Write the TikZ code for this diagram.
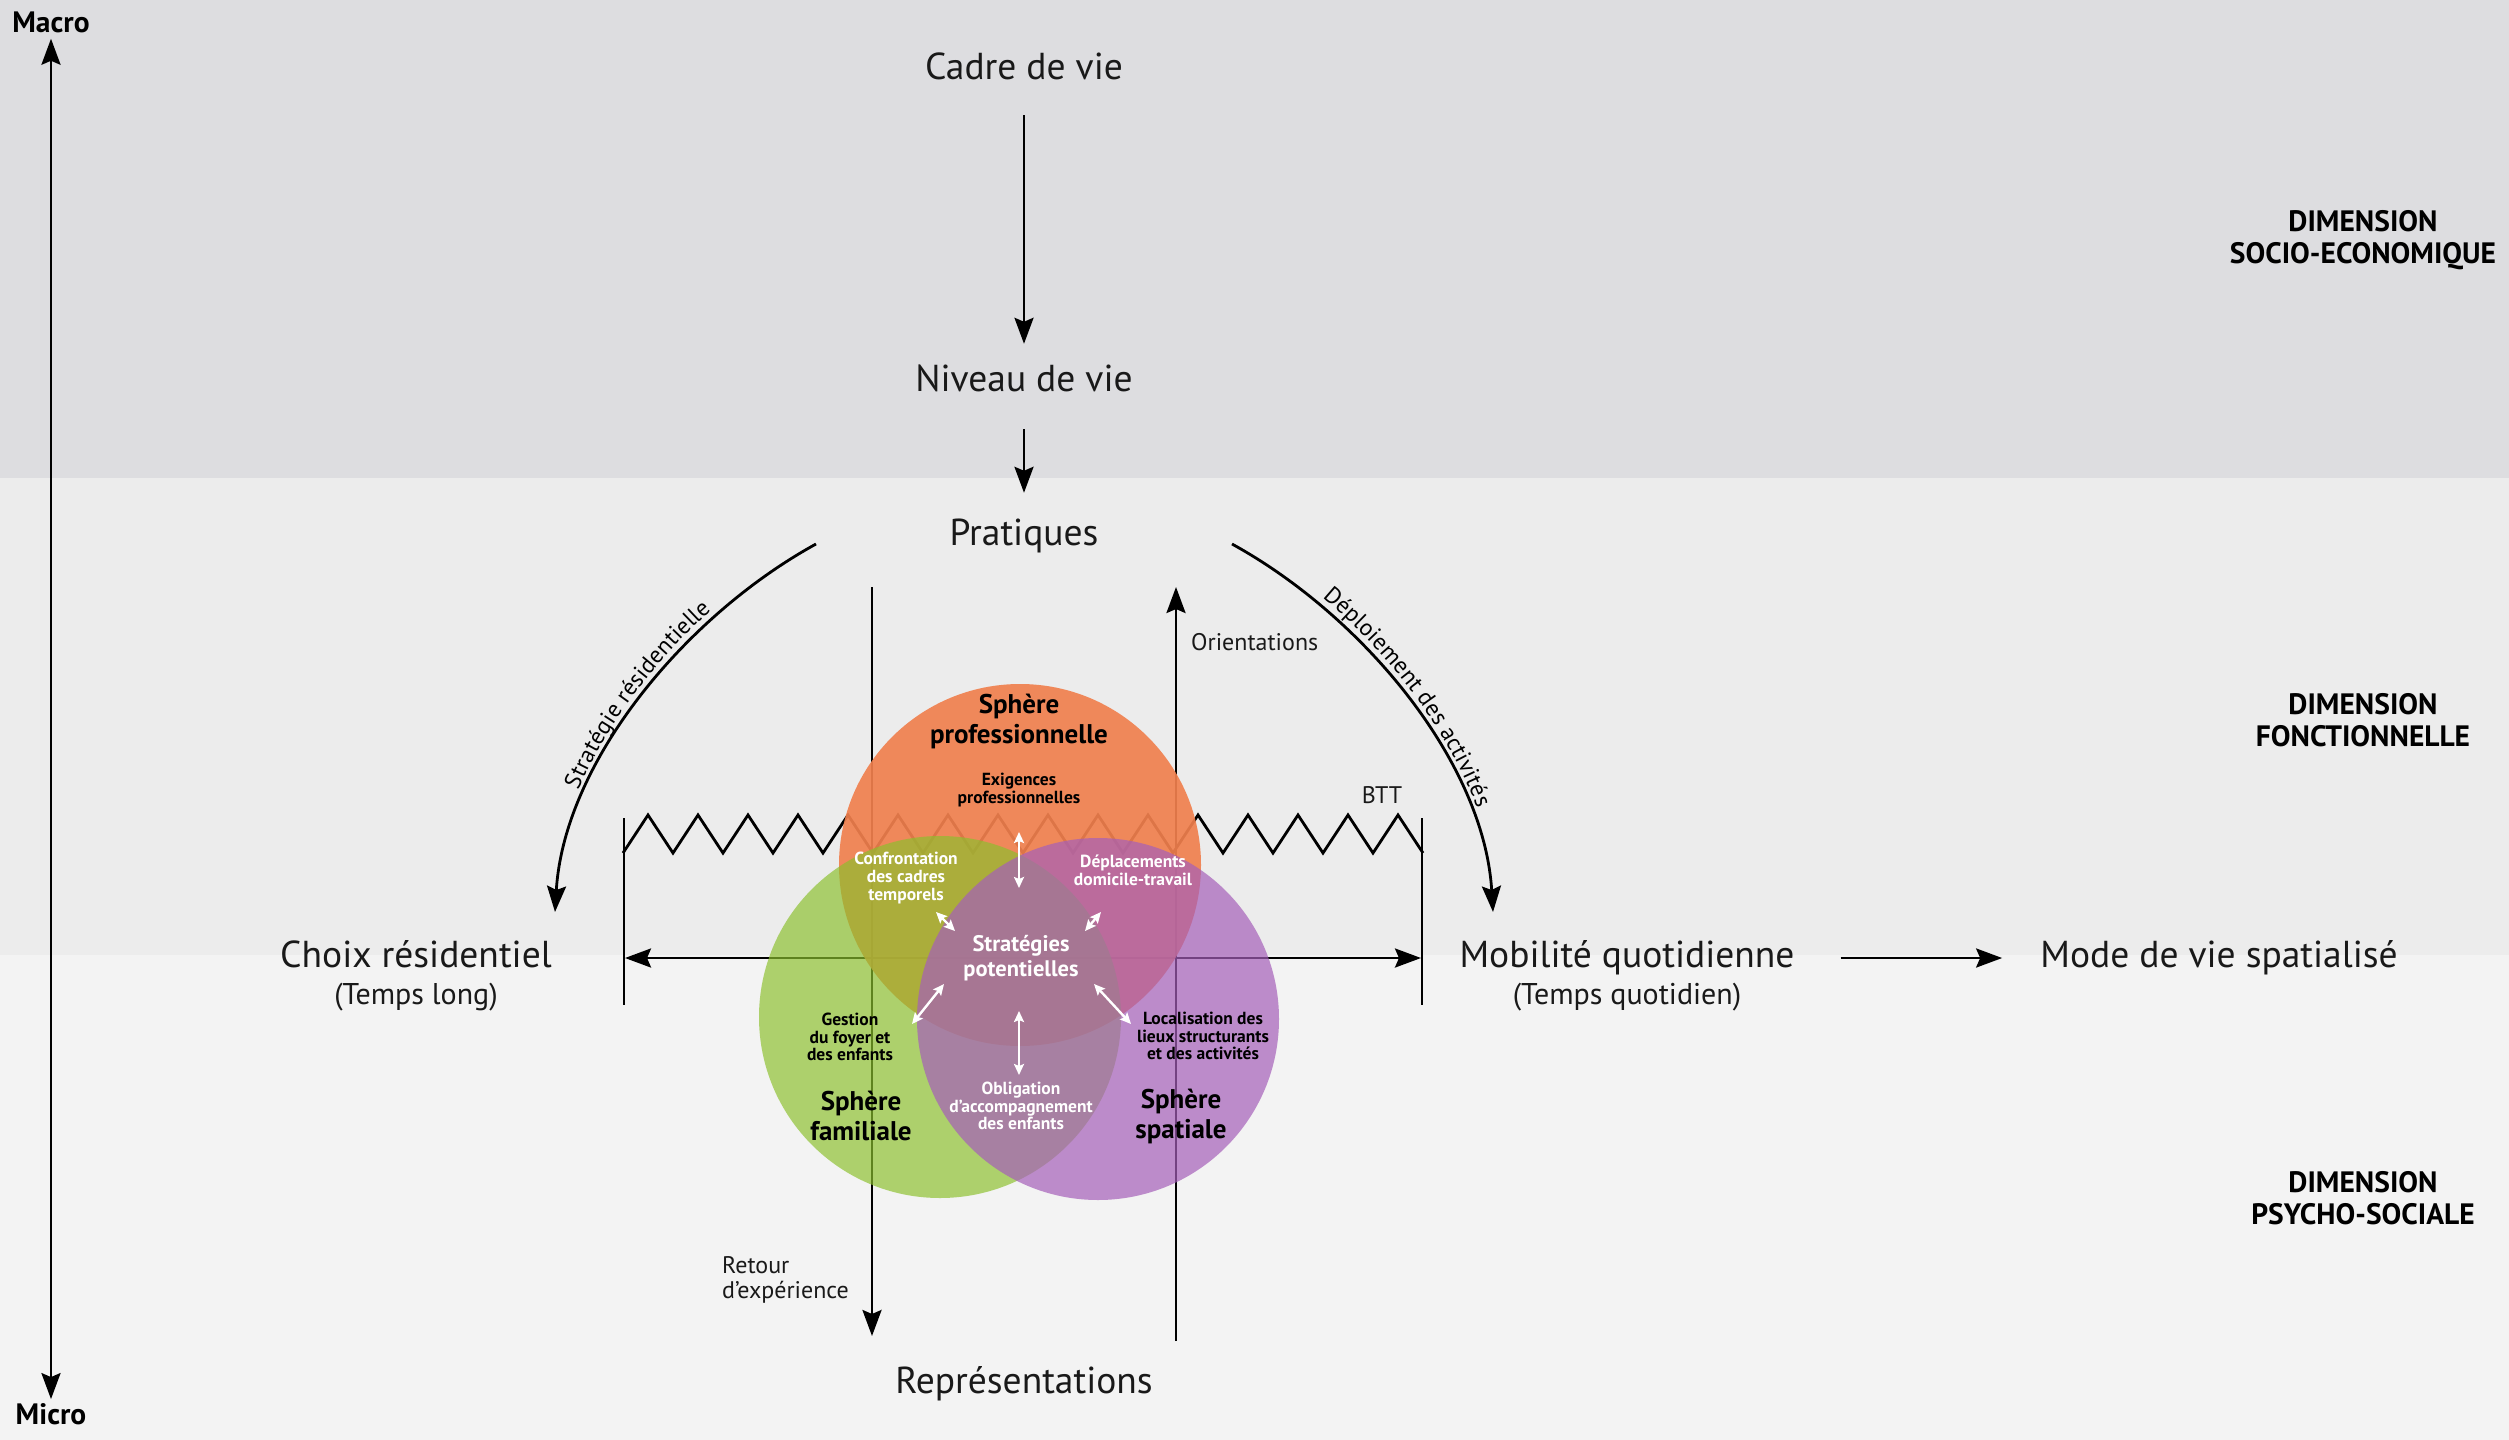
\documentclass[tikz,border=0pt]{standalone}
\usepackage{fontspec}
\setmainfont{PT Sans}
\usetikzlibrary{arrows.meta,positioning,decorations.text,calc}
\definecolor{bandtop}{RGB}{221,221,224}
\definecolor{bandmid}{RGB}{236,236,236}
\definecolor{bandbot}{RGB}{243,243,243}
\definecolor{orangec}{RGB}{240,128,78}
\definecolor{greenc}{RGB}{140,192,45}
\definecolor{purplec}{RGB}{165,95,185}
\definecolor{inktext}{RGB}{25,25,25}
\tikzset{
    lbl/.style = {font=\fontsize{37.5}{44}\selectfont, inner sep=0pt,
        text height=26pt, text depth=8pt, text=inktext},
    sublbl/.style = {font=\fontsize{30}{34}\selectfont, inner sep=0pt, text=inktext},
    note/.style = {font=\fontsize{24}{25}\selectfont, inner sep=0pt, align=left, text=inktext},
    dimlbl/.style = {font=\bfseries\fontsize{29.5}{32}\selectfont, inner sep=0pt, align=center},
    sphere/.style = {font=\bfseries\fontsize{27}{30}\selectfont, inner sep=0pt, align=center},
    strat/.style = {font=\bfseries\fontsize{22.5}{25}\selectfont, inner sep=0pt, align=center, text=white},
    cell/.style = {font=\bfseries\fontsize{17.5}{17.8}\selectfont, inner sep=0pt, align=center},
    disc/.style = {circle, inner sep=0pt, minimum size=362pt},
    arrow/.style = {draw, line width=2.8pt, -{Stealth[length=26pt,width=19pt,inset=4pt]}},
    darrow/.style = {draw, line width=2.8pt,
        {Stealth[length=26pt,width=19pt,inset=4pt]}-{Stealth[length=26pt,width=19pt,inset=4pt]}},
    wlink/.style = {draw=white, line width=2.4pt,
        {Stealth[length=11pt,width=10pt,inset=2pt]}-{Stealth[length=11pt,width=10pt,inset=2pt]}},
    bar/.style = {draw, line width=2.8pt},
    arclbl/.style = {decorate, decoration={text along path, text align=center, raise=7pt,
        text={|\fontsize{23.5}{26}\selectfont|#1}}}
}
\begin{document}
\begin{tikzpicture}[x=1pt, y=-1pt]
    \useasboundingbox (0,0) rectangle (2509,1440);
    % bands
    \fill [bandtop] (0,0) rectangle (2509,478);
    \fill [bandmid] (0,478) rectangle (2509,955);
    \fill [bandbot] (0,955) rectangle (2509,1440);

    % scale axis
    \node [dimlbl] (macro) at (51,22) {Macro};
    \node [dimlbl] (micro) at (51,1414) {Micro};
    \draw [darrow, shorten <=6pt, shorten >=4pt] (macro) -- (micro);

    \node [dimlbl] (dimsoc) at (2363,240) {DIMENSION\\SOCIO-ECONOMIQUE};
    \node [dimlbl] (dimfon) at (2363,720) {DIMENSION\\FONCTIONNELLE};
    \node [dimlbl] (dimpsy) at (2363,1198) {DIMENSION\\PSYCHO-SOCIALE};

    % main chain
    \node [lbl] (cadre) at (1024,70) {Cadre de vie};
    \node [lbl] (niveau) at (1024,382) {Niveau de vie};
    \node [lbl] (pratiques) at (1024,536) {Pratiques};
    \node [lbl] (repres) at (1024,1384) {Représentations};
    \node [lbl] (choix) at (416,958) {Choix résidentiel};
    \node [sublbl, below of=choix, node distance=39pt] (choixt) {(Temps long)};
    \node [lbl] (mobil) at (1627,958) {Mobilité quotidienne};
    \node [sublbl, below of=mobil, node distance=39pt] (mobilt) {(Temps quotidien)};
    \node [lbl] (mode) at (2219,958) {Mode de vie spatialisé};
    \draw [arrow, shorten <=28pt, shorten >=21pt] (cadre) -- (niveau);
    \draw [arrow, shorten <=30pt, shorten >=26pt] (niveau) -- (pratiques);
    \draw [arrow, shorten <=46pt, shorten >=38pt] (mobil) -- (mode);

    % bracket and BTT zigzag
    \coordinate (lbartop) at (624,818);
    \coordinate (lbarbot) at (624,1005);
    \coordinate (rbartop) at (1422,818);
    \coordinate (rbarbot) at (1422,1005);
    \coordinate (lmid) at (624,958);
    \coordinate (rmid) at (1422,958);
    \draw [bar] (lbartop) -- (lbarbot);
    \draw [bar] (rbartop) -- (rbarbot);
    \draw [darrow, shorten <=1pt, shorten >=1pt] (lmid) -- (rmid);
    \draw [bar, line join=miter] (623,853) \foreach \k in {0,...,15}{ -- ({648+50*\k},815) -- ({673+50*\k},853) };
    \node [note] (btt) at (1382,795) {BTT};

    % feedback lines
    \coordinate (rettop) at (872,587);
    \coordinate (retbot) at (872,1336);
    \coordinate (oribot) at (1176,1341);
    \coordinate (oritop) at (1176,587);
    \draw [arrow] (rettop) -- (retbot);
    \draw [arrow] (oribot) -- (oritop);
    \node [note, anchor=west] (retour) at (722,1280) {Retour\\d’expérience};
    \node [note, anchor=west] (orient) at (1191,642) {Orientations};

    % curved strategies
    \draw [arrow] (816,544) .. controls (685,616) and (564,762) .. (555,912);
    \path [arclbl=Stratégie résidentielle] (555,912) .. controls (564,762) and (685,616) .. (816,544);
    \draw [arrow] (1232,544) .. controls (1363,616) and (1484,762) .. (1493,912);
    \path [arclbl=Déploiement des activités] (1232,544) .. controls (1363,616) and (1484,762) .. (1493,912);

    % spheres
    \node [disc, fill=orangec, fill opacity=.92] (profc) at (1020,865) {};
    \node [disc, fill=greenc, fill opacity=.68] (famc) at (940,1017) {};
    \node [disc, fill=purplec, fill opacity=.7] (spac) at (1098,1019) {};

    \node [sphere] (profl) at (1019,721) {Sphère\\professionnelle};
    \node [sphere] (faml) at (861,1116) {Sphère\\familiale};
    \node [sphere] (spal) at (1181,1116) {Sphère\\spatiale};
    \node [strat] (strat) at (1021,958) {Stratégies\\potentielles};
    \node [cell] (exig) at (1019,790) {Exigences\\professionnelles};
    \node [cell, text=white] (confr) at (906,878) {Confrontation\\des cadres\\temporels};
    \node [cell, text=white] (depl) at (1133,870) {Déplacements\\domicile-travail};
    \node [cell] (gest) at (850,1037) {Gestion\\du foyer et\\des enfants};
    \node [cell] (local) at (1203,1036) {Localisation des\\lieux structurants\\et des activités};
    \node [cell, text=white] (oblig) at (1021,1106) {Obligation\\d’accompagnement\\des enfants};

    % links to the potential strategies
    \coordinate (exiga) at (1019,832);  \coordinate (exigb) at (1019,888);
    \coordinate (confra) at (936,912);  \coordinate (confrb) at (955,931);
    \coordinate (depla) at (1101,912);  \coordinate (deplb) at (1085,931);
    \coordinate (gesta) at (912,1024);  \coordinate (gestb) at (944,984);
    \coordinate (locala) at (1131,1024); \coordinate (localb) at (1094,984);
    \coordinate (obliga) at (1019,1075); \coordinate (obligb) at (1019,1011);
    \foreach \a in {exig,confr,depl,gest,local,oblig}{
        \draw [wlink] (\a a) -- (\a b);
    }
\end{tikzpicture}
\end{document}
